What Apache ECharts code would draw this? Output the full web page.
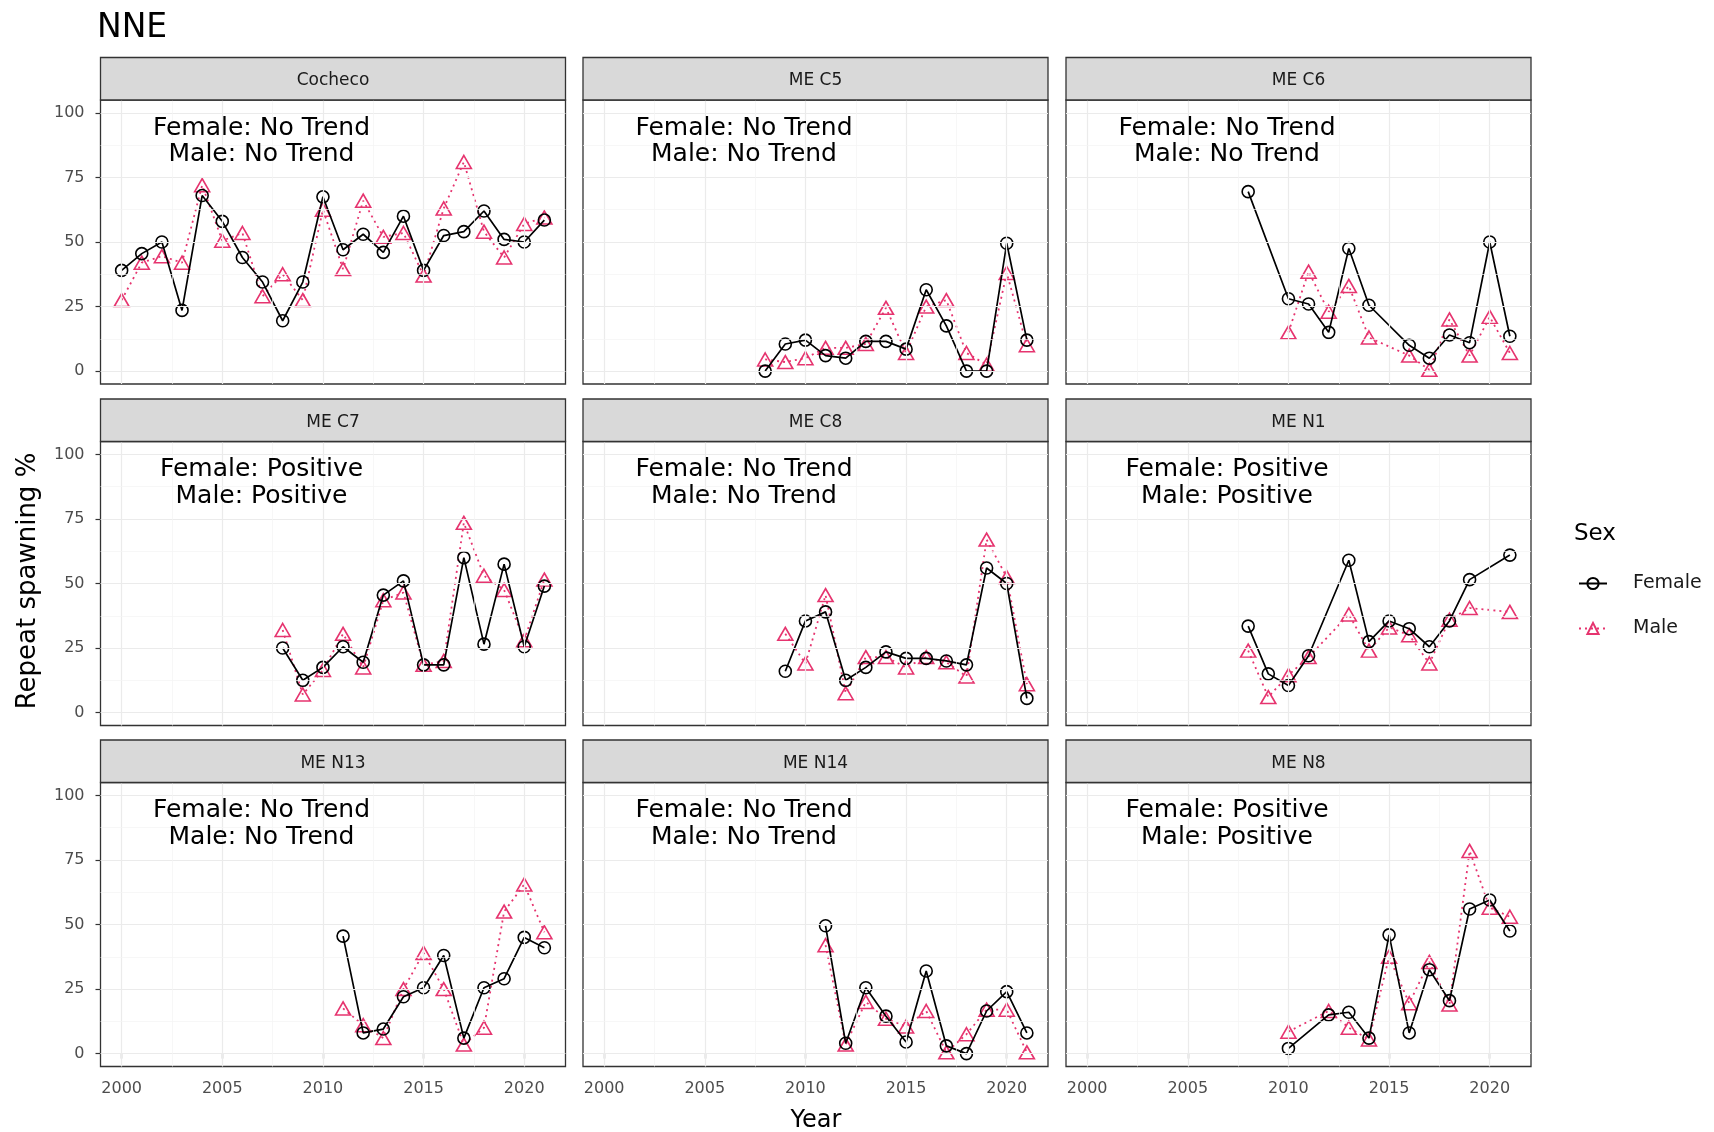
<!DOCTYPE html>
<html>
<head>
<meta charset="utf-8">
<script src="https://cdn.jsdelivr.net/npm/echarts@6/dist/echarts.min.js"></script>
<style>
html,body{margin:0;padding:0;background:#ffffff;}
#chart{width:1714px;height:1132px;}
</style>
</head>
<body>
<div id="chart"></div>
<script>
// ---------------- DATA ----------------
const years = [2000,2001,2002,2003,2004,2005,2006,2007,2008,2009,2010,2011,2012,2013,2014,2015,2016,2017,2018,2019,2020,2021];
const panelNames = ['Cocheco','ME C5','ME C6','ME C7','ME C8','ME N1','ME N13','ME N14','ME N8'];
const femaleTrend = ['No Trend','No Trend','No Trend','Positive','No Trend','Positive','No Trend','No Trend','Positive'];
const maleTrend   = ['No Trend','No Trend','No Trend','Positive','No Trend','Positive','No Trend','No Trend','Positive'];
const xTickLabels = [2000,2005,2010,2015,2020];
const yTickLabels = [0,25,50,75,100];
const xMinorBreaks = [2002.5,2007.5,2012.5,2017.5];
const yMinorBreaks = [12.5,37.5,62.5,87.5];
const sexLevels = ['Female','Male'];

//                       2000 2001 2002 2003 2004 2005 2006 2007 2008 2009 2010 2011 2012 2013 2014 2015 2016 2017 2018 2019 2020 2021
const cochecoFemale = [39, 45.5, 50, 23.5, 68, 58, 44, 34.5, 19.5, 34.5, 67.5, 47, 53, 46, 60, 39, 52.5, 54, 62, 51, 50, 58.5];
const cochecoMale   = [27.5, 42, 44.5, 42, 72, 50.5, 53.5, 29, 37.5, 27.5, 62.5, 39.5, 66, 52, 53.5, 37, 63, 81, 54, 44, 57, 59.5];
const meC5Female  = [null,null,null,null,null,null,null,null, 0, 10.5, 12, 6, 5, 11.5, 11.5, 8.5, 31.5, 17.5, 0, 0, 49.5, 12];
const meC5Male    = [null,null,null,null,null,null,null,null, 4.5, 3.5, 5, 9, 9, 10.5, 24.5, 7, 25, 27.5, 7, 2.5, 38, 10];
const meC6Female  = [null,null,null,null,null,null,null,null, 69.5, null, 28, 26, 15, 47.5, 25.5, null, 10, 5, 14, 11, 50, 13.5];
const meC6Male    = [null,null,null,null,null,null,null,null, null, null, 15, 38.5, 23, 33, 13, null, 6, 0.5, 20, 6, 21, 7];
const meC7Female  = [null,null,null,null,null,null,null,null, 25, 12.5, 17.5, 25.5, 19.5, 45.5, 51, 18.5, 18.5, 60, 26.5, 57.5, 25.5, 49];
const meC7Male    = [null,null,null,null,null,null,null,null, 32, 7, 16.5, 30.5, 17.5, 43.5, 46.5, 18.5, 20, 73.5, 53, 47.5, 28, 51.5];
const meC8Female  = [null,null,null,null,null,null,null,null,null, 16, 35.5, 39, 12.5, 17.5, 23.5, 21, 21, 20, 18.5, 56, 50, 5.5];
const meC8Male    = [null,null,null,null,null,null,null,null,null, 30.5, 19, 45.5, 7.5, 21.5, 21.5, 17.5, 21.5, 19.5, 14, 67, 52.5, 11];
const meN1Female  = [null,null,null,null,null,null,null,null, 33.5, 15, 10.5, 22, null, 59, 27.5, 35.5, 32.5, 25.5, 35.5, 51.5, null, 61];
const meN1Male    = [null,null,null,null,null,null,null,null, 24, 6, 14.5, 21.5, null, 38, 24, 33, 30, 19, 36, 40.5, null, 39];
const meN13Female = [null,null,null,null,null,null,null,null,null,null,null, 45.5, 8, 9.5, 22, 25.5, 38, 6, 25.5, 29, 45, 41];
const meN13Male   = [null,null,null,null,null,null,null,null,null,null,null, 17.5, 11, 6, 25, 39, 25, 3.5, 10, 55, 65.5, 47];
const meN14Female = [null,null,null,null,null,null,null,null,null,null,null, 49.5, 4, 25.5, 14.5, 4.5, 32, 3, 0, 16.5, 24, 8];
const meN14Male   = [null,null,null,null,null,null,null,null,null,null,null, 42, 3.5, 20, 13.5, 10.5, 16.5, 0.5, 7.5, 17, 17, 0.5];
const meN8Female  = [null,null,null,null,null,null,null,null,null,null, 2, null, 15, 16, 6, 46, 8, 32.5, 20.5, 56, 59.5, 47.5];
const meN8Male    = [null,null,null,null,null,null,null,null,null,null, 8.5, null, 16.5, 10, 5.5, 37.5, 19.5, 35.5, 19, 78.5, 56.5, 53];

const femaleSeries = [cochecoFemale, meC5Female, meC6Female, meC7Female, meC8Female, meN1Female, meN13Female, meN14Female, meN8Female];
const maleSeries   = [cochecoMale, meC5Male, meC6Male, meC7Male, meC8Male, meN1Male, meN13Male, meN14Male, meN8Male];

// ---------------- LAYOUT / STYLE ----------------
const FONT = 'DejaVu Sans';
const COL_LEFT = [100.5, 583, 1066];
const ROW_TOP = [100, 441.5, 782.5];
const PW = 465, PH = 284, STRIP = 42.5;
const FEMALE_COLOR = '#000000';
const MALE_COLOR = '#E6346F';

function pairs(arr) {
  const out = [];
  for (let i = 0; i < years.length; i++) {
    if (arr[i] !== null && arr[i] !== undefined) out.push([years[i], arr[i]]);
  }
  return out;
}

const grids = [], xAxes = [], yAxes = [], series = [], graphics = [];

for (let i = 0; i < panelNames.length; i++) {
  const row = Math.floor(i / 3), col = i % 3;
  const left = COL_LEFT[col], top = ROW_TOP[row];
  grids.push({
    left: left, top: top, width: PW, height: PH,
    show: true, borderColor: '#333333', borderWidth: 1.3, backgroundColor: 'transparent'
  });
  xAxes.push({
    gridIndex: i, type: 'value', min: 1998.95, max: 2022.05,
    axisLine: { show: false },
    splitLine: { show: false },
    axisTick: { show: row === 2, customValues: xTickLabels, length: 5, lineStyle: { color: '#333333', width: 1.2 } },
    axisLabel: { show: row === 2, customValues: xTickLabels, formatter: v => String(v), margin: 14, fontSize: 16, fontFamily: FONT, color: '#4d4d4d' }
  });
  yAxes.push({
    gridIndex: i, type: 'value', min: -5, max: 105,
    axisLine: { show: false },
    splitLine: { show: false },
    axisTick: { show: col === 0, customValues: yTickLabels, length: 5, lineStyle: { color: '#333333', width: 1.2 } },
    axisLabel: { show: col === 0, customValues: yTickLabels, formatter: v => String(v), margin: 16, fontSize: 16, fontFamily: FONT, color: '#4d4d4d' }
  });

  // panel grid lines (drawn by the axes' scales through markLine)
  const gl = [];
  xTickLabels.forEach(v => gl.push({ xAxis: v }));
  yTickLabels.forEach(v => gl.push({ yAxis: v }));
  xMinorBreaks.forEach(v => gl.push({ xAxis: v, lineStyle: { color: '#f3f3f3', width: 0.7 } }));
  yMinorBreaks.forEach(v => gl.push({ yAxis: v, lineStyle: { color: '#f3f3f3', width: 0.7 } }));
  series.push({
    name: 'grid' + i, type: 'line', xAxisIndex: i, yAxisIndex: i, data: [], z: 0, silent: true,
    markLine: {
      silent: true, symbol: ['none', 'none'], animation: false,
      label: { show: false }, emphasis: { disabled: true },
      lineStyle: { color: '#ebebeb', width: 1.2, type: 'solid' },
      data: gl
    }
  });

  series.push({
    name: 'Male', type: 'line', xAxisIndex: i, yAxisIndex: i, z: 3,
    data: pairs(maleSeries[i]),
    symbol: 'triangle', symbolSize: [15, 13],
    itemStyle: { color: 'rgba(0,0,0,0)', borderColor: MALE_COLOR, borderWidth: 1.6 },
    lineStyle: { color: MALE_COLOR, width: 1.8, type: [2, 4] },
    emphasis: { disabled: true }
  });
  series.push({
    name: 'Female', type: 'line', xAxisIndex: i, yAxisIndex: i, z: 4,
    data: pairs(femaleSeries[i]),
    symbol: 'circle', symbolSize: 12,
    itemStyle: { color: 'rgba(0,0,0,0)', borderColor: FEMALE_COLOR, borderWidth: 1.6 },
    lineStyle: { color: FEMALE_COLOR, width: 1.7, type: 'solid' },
    emphasis: { disabled: true }
  });

  // facet strip
  graphics.push({
    type: 'rect', shape: { x: left, y: top - STRIP, width: PW, height: STRIP },
    style: { fill: '#d9d9d9', stroke: '#333333', lineWidth: 1.3 }, z: 10
  });
  graphics.push({
    type: 'text', x: left + PW / 2, y: top - STRIP / 2 + 2, z: 11,
    style: { text: panelNames[i], textAlign: 'center', textVerticalAlign: 'middle', fontSize: 17, fontFamily: FONT, fill: '#1a1a1a' }
  });
  // trend annotation
  graphics.push({
    type: 'text', x: left + 161, y: top + 41.5, z: 11,
    style: {
      text: 'Female: ' + femaleTrend[i] + '\nMale: ' + maleTrend[i],
      textAlign: 'center', textVerticalAlign: 'middle', lineHeight: 26.5,
      fontSize: 25, fontFamily: FONT, fill: '#000000'
    }
  });
}

graphics.push({
  type: 'text', x: 97, y: 28,
  style: { text: 'NNE', textAlign: 'left', textVerticalAlign: 'middle', fontSize: 33, fontFamily: FONT, fill: '#000000' }
});
graphics.push({
  type: 'text', x: 28, y: 581, rotation: Math.PI / 2,
  style: { text: 'Repeat spawning %', textAlign: 'center', textVerticalAlign: 'middle', fontSize: 26, fontFamily: FONT, fill: '#000000' }
});
graphics.push({
  type: 'text', x: 816, y: 1121,
  style: { text: 'Year', textAlign: 'center', textVerticalAlign: 'middle', fontSize: 24, fontFamily: FONT, fill: '#000000' }
});
graphics.push({
  type: 'text', x: 1574, y: 534,
  style: { text: 'Sex', textAlign: 'left', textVerticalAlign: 'middle', fontSize: 23, fontFamily: FONT, fill: '#000000' }
});

const chart = echarts.init(document.getElementById('chart'), null, { renderer: 'canvas' });
chart.setOption({
  animation: false,
  backgroundColor: '#ffffff',
  grid: grids,
  xAxis: xAxes,
  yAxis: yAxes,
  legend: {
    data: sexLevels, orient: 'vertical', left: 1573, top: 569,
    itemWidth: 28, itemHeight: 14, itemGap: 26, selectedMode: false,
    textStyle: { fontSize: 19, fontFamily: FONT, color: '#1a1a1a', padding: [0, 0, 0, 21] }
  },
  series: series,
  graphic: graphics
});
</script>
</body>
</html>
